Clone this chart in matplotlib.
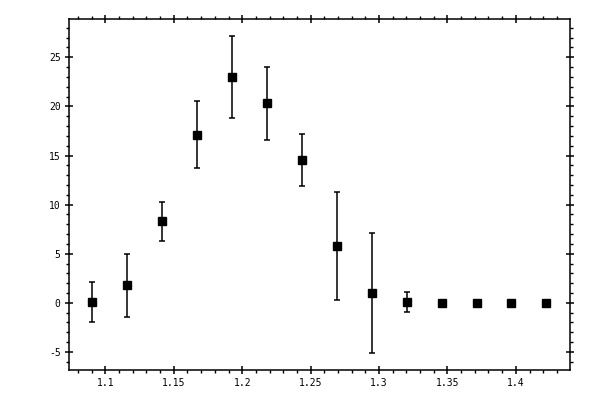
import numpy as np
import matplotlib
matplotlib.use('Agg')
import matplotlib.pyplot as plt
from matplotlib.ticker import MultipleLocator, FixedLocator

plt.rcParams['axes.unicode_minus'] = False

# values
x = [1.0904, 1.1159, 1.1415, 1.1670, 1.1926, 1.2181, 1.2436,
     1.2692, 1.2947, 1.3202, 1.3458, 1.3713, 1.3968, 1.4224]
y = [0.07, 1.8, 8.3, 17.1, 23.0, 20.3, 14.55,
     5.8, 1.0, 0.07, 0.0, 0.0, 0.0, 0.0]
yerr = [2.0, 3.2, 2.0, 3.4, 4.15, 3.7, 2.65,
        5.5, 6.15, 1.0, 0.0, 0.0, 0.0, 0.0]

xticks = [1.1, 1.15, 1.2, 1.25, 1.3, 1.35, 1.4]
xlabels = ['1.1', '1.15', '1.2', '1.25', '1.3', '1.35', '1.4']
yticks = [-5, 0, 5, 10, 15, 20, 25]

fig = plt.figure(figsize=(6, 4), dpi=100)
ax = fig.add_axes([0.115, 0.075, 0.835, 0.8775])

# only draw bars where there's an error
has_err = [e > 0 for e in yerr]
ax.errorbar([a for a, h in zip(x, has_err) if h],
            [b for b, h in zip(y, has_err) if h],
            yerr=[e for e, h in zip(yerr, has_err) if h],
            fmt='none', ecolor='black', elinewidth=1.1, capsize=2, capthick=1.1)
ax.plot(x, y, 's', color='black', markersize=5.2, linestyle='none')

ax.set_xlim(1.0734, 1.4396)
ax.set_ylim(-6.84, 28.9)

ax.xaxis.set_major_locator(FixedLocator(xticks))
ax.set_xticklabels(xlabels)
ax.xaxis.set_minor_locator(MultipleLocator(0.01))
ax.yaxis.set_major_locator(FixedLocator(yticks))
ax.yaxis.set_minor_locator(MultipleLocator(1))

for sp in ax.spines.values():
    sp.set_linewidth(1.1)

ax.tick_params(which='major', direction='inout', length=6, width=1.1,
               top=True, right=True, labelsize=7, pad=3)
ax.tick_params(which='minor', direction='out', length=2.5, width=1,
               top=True, right=True)
for lab in ax.get_xticklabels() + ax.get_yticklabels():
    lab.set_family('DejaVu Sans Mono')

fig.savefig('out.png', dpi=100)
